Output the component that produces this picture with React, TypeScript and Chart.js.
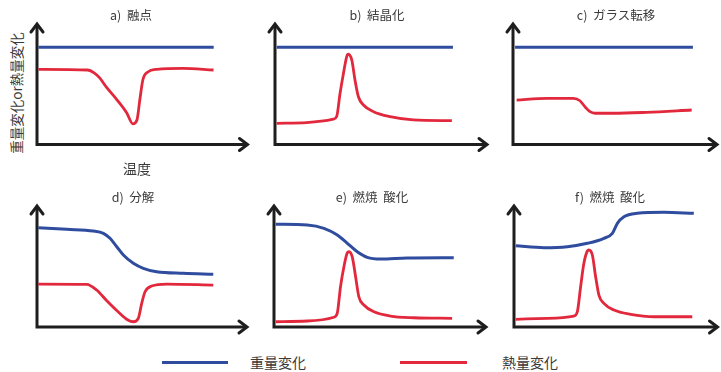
import React, { useEffect, useRef } from "react";
import { Chart, registerables } from "chart.js";

Chart.register(...registerables);

// ---- data (x: temperature index, y: relative change) ----
const panelTitles = ["a)  融点", "b)  結晶化", "c)  ガラス転移", "d)  分解", "e)  燃焼  酸化", "f)  燃焼  酸化"];
const seriesNames = ["重量変化", "熱量変化"];
const yAxisLabel = "重量変化or熱量変化";
const xAxisLabel = "温度";

const meltWeight = [[0.8, 80], [99, 80]];
const meltHeat = [[0.8, 61.9], [28.4, 61.3], [32, 59], [35, 55], [39, 47], [44.7, 37], [50.3, 26], [53.7, 17], [56, 20.2], [57.6, 36.6], [59.3, 53.1], [62.1, 59.7], [67.2, 61.9], [81.7, 62.7], [98.9, 61.3]];

const crystWeight = [[1, 80], [99, 80]];
const crystHeat = [[0.9, 17.4], [17.6, 18], [32.4, 20.8], [34.3, 23], [36.2, 42.2], [38.1, 58.7], [39.9, 72.4], [40.8, 74.3], [42.7, 69.6], [44.5, 53.1], [46.4, 39.3], [49.2, 32.5], [54.8, 27], [64, 22.9], [77, 20.2], [98.4, 19.6]];

const glassWeight = [[1.2, 80], [104, 80]];
const glassHeat = [[2.1, 36.6], [19.5, 38], [34.9, 38], [38.7, 36], [41.6, 31.1], [44.5, 27], [47.4, 25.7], [58, 25.7], [77.3, 26.5], [103.3, 28.4]];

const decompWeight = [[0.7, 81.4], [16.7, 80.1], [31.6, 78.7], [37.3, 76.8], [41, 72.7], [44.8, 65.8], [48.5, 59], [54.1, 52.2], [59.7, 48.1], [67.2, 45.3], [82.2, 44], [99, 43.2]];
const decompHeat = [[0.7, 35.2], [27.9, 35], [33.5, 30.3], [39.2, 21.5], [44.8, 13.5], [51.3, 5.5], [54.1, 4.3], [56.9, 7.1], [58.8, 19.4], [60.7, 28.9], [64.4, 33.6], [72.9, 35.2], [99, 34.4]];

const burnAWeight = [[0.9, 84.2], [18.5, 83.6], [27.8, 80.9], [35.2, 75.4], [40.8, 68.6], [46.3, 61.7], [51.9, 57.1], [59.3, 55.7], [74.1, 56.6], [100, 56.8]];
const burnAHeat = [[0.9, 4.3], [18.5, 4.9], [33.3, 8], [35.2, 11.3], [37, 33], [38.9, 49.4], [40.8, 60.9], [41.7, 61.7], [43.5, 57.6], [45.4, 41.2], [47.2, 24.8], [50, 18], [55.6, 12.5], [64.8, 9], [77.8, 7.6], [99.1, 7.1]];

const burnBWeight = [[1, 66.6], [17.4, 65], [30.9, 65.8], [42.5, 68.6], [52.1, 72.7], [57, 76.8], [59.9, 85], [63.7, 90.4], [71.4, 93.2], [86.9, 94], [104.2, 93.2]];
const burnBHeat = [[1, 6.3], [19.3, 7.1], [34.7, 9], [36.7, 12.5], [38.6, 33], [40.5, 52.2], [42.5, 62.3], [43.4, 63.1], [45.4, 59], [47.3, 41.2], [49.2, 26.2], [52.1, 19.4], [57.9, 13.9], [67.6, 10.4], [81.1, 8.4], [103.3, 8.4]];

const panelWeights = [meltWeight, crystWeight, glassWeight, decompWeight, burnAWeight, burnBWeight];
const panelHeats = [meltHeat, crystHeat, glassHeat, decompHeat, burnAHeat, burnBHeat];

// ---- layout / style ----
const BLUE = "#2f4c9e";
const RED = "#e2283c";
const AXIS = "#1e1e1e";
const TEXT = "#3a3a3a";
const FONT = "'Noto Sans CJK JP', 'Noto Sans', sans-serif";

// plot-area boxes (axis origin / arrow tips) in page pixels
const boxes = [
  { L: 36.5, T: 23, R: 248, B: 144.5, tx: 131, ty: 15 },
  { L: 275, T: 23, R: 488, B: 144.5, tx: 377, ty: 15 },
  { L: 513, T: 23, R: 718, B: 144.5, tx: 616, ty: 15 },
  { L: 37, T: 205, R: 248, B: 327, tx: 133, ty: 197 },
  { L: 273.5, T: 205, R: 486.5, B: 327, tx: 372, ty: 197 },
  { L: 513.5, T: 205, R: 718, B: 327, tx: 610, ty: 197 },
];
const PAD = { left: 9, top: 2, right: 2, bottom: 9 };

const arrowAxes = {
  id: "arrowAxes",
  beforeDatasetsDraw(chart: any) {
    const { ctx, chartArea: a } = chart;
    ctx.save();
    ctx.strokeStyle = AXIS;
    ctx.lineWidth = 3;
    ctx.lineJoin = "miter";
    ctx.lineCap = "butt";
    ctx.beginPath();
    ctx.moveTo(a.left, a.top + 1);
    ctx.lineTo(a.left, a.bottom);
    ctx.lineTo(a.right - 1, a.bottom);
    ctx.stroke();
    ctx.lineCap = "round";
    ctx.beginPath();
    ctx.moveTo(a.left - 6, a.top + 9);
    ctx.lineTo(a.left, a.top + 1);
    ctx.lineTo(a.left + 6, a.top + 9);
    ctx.moveTo(a.right - 9, a.bottom - 6);
    ctx.lineTo(a.right - 1, a.bottom);
    ctx.lineTo(a.right - 9, a.bottom + 6);
    ctx.stroke();
    ctx.restore();
  },
};

const toPts = (arr: number[][]) => arr.map(([x, y]) => ({ x, y }));

function Panel({ idx }: { idx: number }) {
  const ref = useRef<HTMLCanvasElement>(null);
  const b = boxes[idx];
  const w = Math.round(b.R - b.L + PAD.left + PAD.right);
  const h = Math.round(b.B - b.T + PAD.top + PAD.bottom);
  useEffect(() => {
    if (!ref.current) return;
    const chart = new Chart(ref.current, {
      type: "line",
      data: {
        datasets: [
          { label: seriesNames[0], data: toPts(panelWeights[idx]), borderColor: BLUE, borderWidth: 3, pointRadius: 0, cubicInterpolationMode: "monotone", fill: false },
          { label: seriesNames[1], data: toPts(panelHeats[idx]), borderColor: RED, borderWidth: 2.8, pointRadius: 0, cubicInterpolationMode: "monotone", fill: false },
        ],
      },
      options: {
        animation: false,
        responsive: false,
        maintainAspectRatio: false,
        events: [],
        layout: { padding: { left: PAD.left, top: PAD.top, right: w - PAD.left - (b.R - b.L), bottom: h - PAD.top - (b.B - b.T) } },
        scales: {
          x: { type: "linear", min: 0, max: 118.5, display: false },
          y: { type: "linear", min: 0, max: 100, display: false },
        },
        plugins: { legend: { display: false }, tooltip: { enabled: false }, title: { display: false } },
      },
      plugins: [arrowAxes],
    } as any);
    return () => chart.destroy();
  }, [idx]);
  return (
    <>
      <canvas
        ref={ref}
        width={w}
        height={h}
        style={{ position: "absolute", left: b.L - PAD.left, top: b.T - PAD.top, width: w, height: h }}
      />
      <div
        style={{
          position: "absolute",
          left: b.tx - 80,
          width: 160,
          top: b.ty - 10,
          height: 20,
          lineHeight: "20px",
          textAlign: "center",
          fontSize: 12.5,
          whiteSpace: "pre",
          color: TEXT,
          fontFamily: FONT,
        }}
      >
        {panelTitles[idx]}
      </div>
    </>
  );
}

export default function App() {
  const textStyle: React.CSSProperties = { position: "absolute", color: TEXT, fontFamily: FONT, whiteSpace: "pre" };
  return (
    <div style={{ position: "absolute", left: 0, top: 0, width: 721, height: 372, background: "#fff", overflow: "hidden" }}>
      {boxes.map((_, i) => (
        <Panel key={i} idx={i} />
      ))}
      <div
        style={{
          ...textStyle,
          left: 16 - 70,
          top: 93 - 10,
          width: 140,
          height: 20,
          lineHeight: "20px",
          textAlign: "center",
          fontSize: 13.5,
          transform: "rotate(-90deg)",
        }}
      >
        {yAxisLabel}
      </div>
      <div style={{ ...textStyle, left: 137 - 30, top: 168 - 10, width: 60, height: 20, lineHeight: "20px", textAlign: "center", fontSize: 14 }}>
        {xAxisLabel}
      </div>
      <div style={{ position: "absolute", left: 162, top: 361, width: 66, height: 3, background: BLUE }} />
      <div style={{ ...textStyle, left: 250, top: 352, height: 20, lineHeight: "20px", fontSize: 14 }}>{seriesNames[0]}</div>
      <div style={{ position: "absolute", left: 400, top: 361, width: 67, height: 3, background: RED }} />
      <div style={{ ...textStyle, left: 502, top: 352, height: 20, lineHeight: "20px", fontSize: 14 }}>{seriesNames[1]}</div>
    </div>
  );
}
